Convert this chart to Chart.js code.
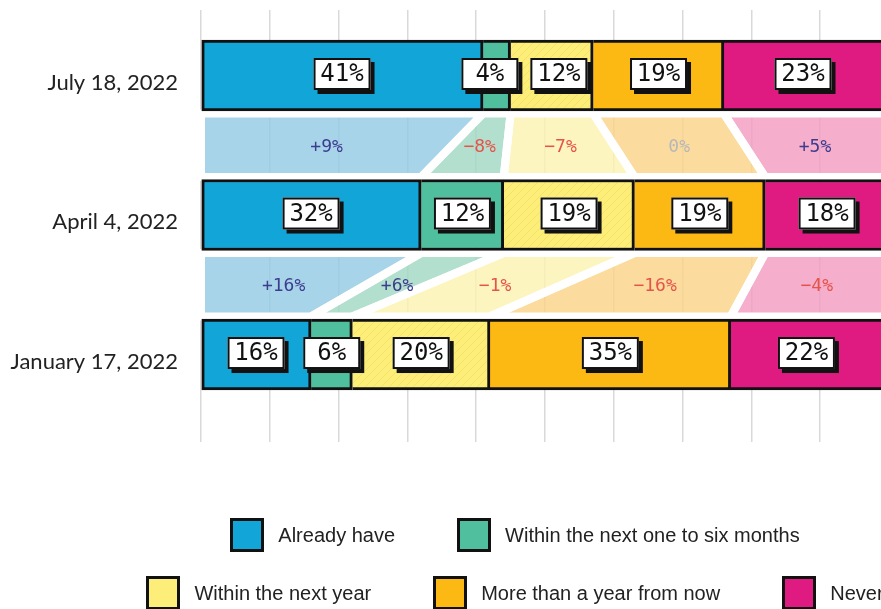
<!DOCTYPE html>
<html lang="en">
<head>
  <meta charset="UTF-8" />
  <title>When will you get it?</title>
  <script src="https://cdn.jsdelivr.net/npm/chart.js"></script>
  <style>
    html, body {
      margin: 0;
      padding: 0;
      background: #fff;
      overflow: hidden;
    }
    #wrap {
      position: relative;
      width: 1030px;
      height: 609px;
    }
    #legend {
      position: absolute;
      left: 0;
      top: 0;
      width: 1030px;
      font-family: 'Liberation Sans', Arial, sans-serif;
      font-size: 20px;
      color: #222;
    }
    .row {
      position: absolute;
      left: 0;
      width: 100%;
      display: flex;
      justify-content: center;
      gap: 62px;
    }
    .item {
      display: flex;
      align-items: center;
      white-space: nowrap;
    }
    .swatch {
      width: 34px;
      height: 34px;
      box-sizing: border-box;
      border: 3px solid #111;
      margin-right: 14px;
    }
  </style>
</head>
<body>
  <div id="wrap">
    <canvas id="chart"></canvas>
    <div id="legend"></div>
  </div>

  <script>
    // survey dates, newest on top
    const dates = ['July 18, 2022', 'April 4, 2022', 'January 17, 2022'];
    const categories = ['Already have', 'Within the next one to six months', 'Within the next year', 'More than a year from now', 'Never'];

    const alreadyHave = [41, 32, 16];
    const oneToSixMonths = [4, 12, 6];
    const withinYear = [12, 19, 20];
    const moreThanYear = [19, 19, 35];
    const never = [23, 18, 22];

    const barColors = ['#12a5d8', '#4fbf9d', '#fcee78', '#fdb913', '#df1b82'];
    const ribbonColors = ['rgba(146,201,229,0.8)', 'rgba(160,215,194,0.8)', 'rgba(252,242,175,0.8)', 'rgba(251,211,134,0.8)', 'rgba(242,154,190,0.8)'];

    const series = [alreadyHave, oneToSixMonths, withinYear, moreThanYear, never];
    const BAR_H = 71;

    // faint diagonal hatch for the yellow segment
    function hatch(color, line) {
      const c = document.createElement('canvas');
      c.width = 8; c.height = 8;
      const g = c.getContext('2d');
      g.fillStyle = color;
      g.fillRect(0, 0, 8, 8);
      g.strokeStyle = line;
      g.lineWidth = 1;
      g.beginPath();
      g.moveTo(0, 8); g.lineTo(8, 0);
      g.moveTo(-2, 2); g.lineTo(2, -2);
      g.moveTo(6, 10); g.lineTo(10, 6);
      g.stroke();
      return g.createPattern(c, 'repeat');
    }

    function borderFor(i) {
      if (i === 0) return { top: 3, bottom: 3, left: 3, right: 3 };
      if (i === series.length - 1) return { top: 3, bottom: 3, left: 0, right: 0 };
      return { top: 3, bottom: 3, left: 0, right: 3 };
    }

    const datasets = series.map((vals, i) => ({
      label: categories[i],
      data: vals.map((v, row) => ({ x: v, y: row })),
      backgroundColor: i === 2 ? hatch(barColors[2], 'rgba(230,205,70,0.35)') : barColors[i],
      borderColor: '#111',
      borderWidth: borderFor(i),
      borderSkipped: false,
      barThickness: BAR_H,
      swatch: barColors[i]
    }));

    function xy(chart) {
      return { x: chart.scales.x, y: chart.scales.y };
    }

    function cumulative(row) {
      let acc = 0;
      return series.map(s => {
        const start = acc;
        acc += s[row];
        return [start, acc];
      });
    }

    const ribbons = {
      id: 'ribbons',
      beforeDatasetsDraw(chart) {
        const { ctx } = chart;
        const { x, y } = xy(chart);
        const shapes = [];
        for (let r = 0; r < dates.length - 1; r++) {
          const top = cumulative(r), bot = cumulative(r + 1);
          const yTop = y.getPixelForValue(r) + BAR_H / 2 + 2.5;
          const yBot = y.getPixelForValue(r + 1) - BAR_H / 2 - 2.5;
          series.forEach((s, c) => {
            const pts = [
              [x.getPixelForValue(top[c][0]), yTop],
              [x.getPixelForValue(top[c][1]), yTop],
              [x.getPixelForValue(bot[c][1]), yBot],
              [x.getPixelForValue(bot[c][0]), yBot]
            ];
            shapes.push({ pts, c, diff: s[r] - s[r + 1], yMid: (yTop + yBot) / 2 });
          });
        }
        ctx.save();
        const path = pts => {
          ctx.beginPath();
          ctx.moveTo(pts[0][0], pts[0][1]);
          pts.slice(1).forEach(p => ctx.lineTo(p[0], p[1]));
          ctx.closePath();
        };
        shapes.forEach(sh => {
          path(sh.pts);
          ctx.fillStyle = ribbonColors[sh.c];
          ctx.fill();
        });
        ctx.strokeStyle = '#fff';
        ctx.lineWidth = 8;
        ctx.lineJoin = 'round';
        shapes.forEach(sh => {
          const p = sh.pts;
          if (sh.c === series.length - 1) {
            // last ribbon runs off the right edge: leave that side open
            ctx.beginPath();
            ctx.moveTo(p[1][0] + 20, p[1][1]);
            ctx.lineTo(p[0][0], p[0][1]);
            ctx.lineTo(p[3][0], p[3][1]);
            ctx.lineTo(p[2][0] + 20, p[2][1]);
          } else {
            path(p);
          }
          ctx.stroke();
        });
        ctx.font = '18px "DejaVu Sans Mono", monospace';
        ctx.textAlign = 'center';
        ctx.textBaseline = 'middle';
        shapes.forEach(sh => {
          const cx = sh.pts.reduce((a, p) => a + p[0], 0) / 4;
          const d = sh.diff;
          ctx.fillStyle = d > 0 ? '#3d3d8f' : d < 0 ? '#e5544b' : '#b8b8b8';
          const txt = (d > 0 ? '+' : d < 0 ? '\u2212' : '') + Math.abs(d) + '%';
          ctx.fillText(txt, cx, sh.yMid + 2);
        });
        ctx.restore();
      }
    };

    const valueBoxes = {
      id: 'valueBoxes',
      afterDatasetsDraw(chart) {
        const { ctx } = chart;
        const { x, y } = xy(chart);
        const W = 57, H = 32, SH = 4, GAP = 12;
        ctx.save();
        ctx.font = '24px "DejaVu Sans Mono", monospace';
        ctx.textAlign = 'center';
        ctx.textBaseline = 'middle';
        dates.forEach((d, r) => {
          const cy = y.getPixelForValue(r) - 1.5;
          const boxes = cumulative(r).map((seg, c) => ({
            cx: x.getPixelForValue((seg[0] + seg[1]) / 2),
            txt: series[c][r] + '%'
          }));
          for (let i = 1; i < boxes.length; i++) {
            const overlap = (boxes[i - 1].cx + W / 2 + GAP) - (boxes[i].cx - W / 2);
            if (overlap > 0) {
              boxes[i - 1].cx -= overlap / 2;
              boxes[i].cx += overlap / 2;
            }
          }
          boxes.forEach(b => {
            const left = b.cx - W / 2, top = cy - H / 2;
            ctx.fillStyle = '#111';
            ctx.fillRect(left + SH, top + SH, W, H);
            ctx.fillStyle = '#fff';
            ctx.fillRect(left, top, W, H);
            ctx.strokeStyle = '#111';
            ctx.lineWidth = 2;
            ctx.strokeRect(left + 1, top + 1, W - 2, H - 2);
            ctx.fillStyle = '#111';
            ctx.fillText(b.txt, b.cx, cy + 1);
          });
        });
        ctx.restore();
      }
    };

    const chart = new Chart(document.getElementById('chart'), {
      type: 'bar',
      data: { datasets },
      options: {
        indexAxis: 'y',
        responsive: true,
        maintainAspectRatio: false,
        animation: false,
        layout: { padding: { top: 10, bottom: 167, right: 141, left: 0 } },
        plugins: {
          legend: { display: false },
          tooltip: { enabled: false }
        },
        scales: {
          x: {
            stacked: true,
            min: 0,
            max: 100,
            ticks: { display: false, stepSize: 10 },
            grid: { color: '#d9d9d9', lineWidth: 1.5, drawTicks: false },
            border: { display: false }
          },
          y: {
            type: 'linear',
            stacked: true,
            reverse: true,
            offset: false,
            min: -0.4695,
            max: 2.627,
            afterBuildTicks: s => { s.ticks = dates.map((d, i) => ({ value: i })); },
            afterFit: s => {
              s.width = 201;
              s.paddingTop = 0;
              s.paddingBottom = 0;
            },
            ticks: {
              callback: v => dates[v],
              padding: 23,
              labelOffset: 7,
              color: '#222',
              font: { family: 'Lato, "Open Sans", sans-serif', size: 22 }
            },
            grid: { display: false, drawTicks: false, offset: false },
            border: { display: false }
          }
        }
      },
      plugins: [ribbons, valueBoxes]
    });

    // legend built from the chart's datasets
    const legend = document.getElementById('legend');
    const rows = [[0, 1], [2, 3, 4]];
    const rowTops = [518, 576];
    rows.forEach((idx, k) => {
      const row = document.createElement('div');
      row.className = 'row';
      row.style.top = rowTops[k] + 'px';
      idx.forEach(i => {
        const ds = chart.data.datasets[i];
        const item = document.createElement('div');
        item.className = 'item';
        item.innerHTML = `<span class="swatch" style="background:${ds.swatch}"></span><span>${ds.label}</span>`;
        row.appendChild(item);
      });
      legend.appendChild(row);
    });
  </script>
</body>
</html>
